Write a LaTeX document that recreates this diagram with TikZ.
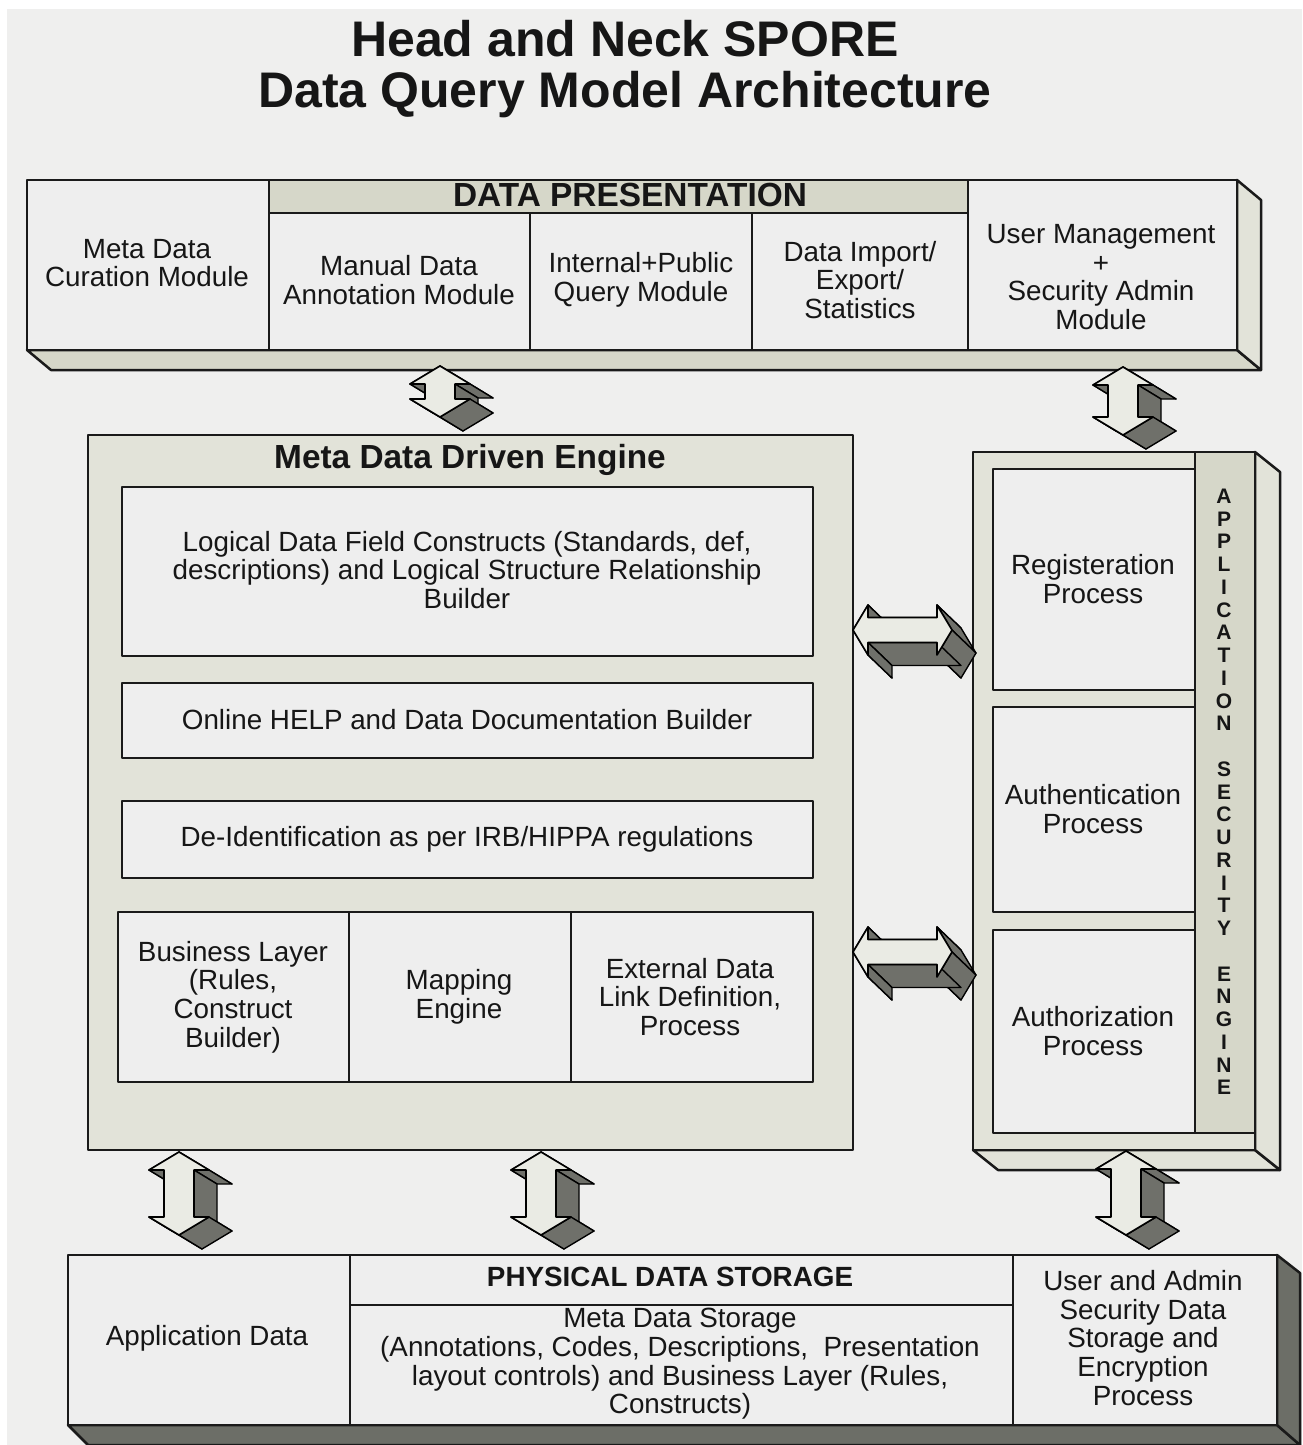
\documentclass[tikz,border=0pt]{standalone}
\usepackage{fontspec}
\setmainfont{Liberation Sans}
\definecolor{bgc}{HTML}{EFEFEE}
\definecolor{cellc}{HTML}{EEEEEE}
\definecolor{khaki}{HTML}{D6D7C9}
\definecolor{khakil}{HTML}{E2E3D9}
\definecolor{darkface}{HTML}{6C6E67}
\definecolor{afront}{HTML}{EAEBE4}
\definecolor{asidec}{HTML}{6F706A}
\definecolor{textc}{HTML}{161616}
\definecolor{linec}{HTML}{1A1A1A}
\tikzset{
  box/.style={draw=linec, line width=1.25pt, fill=cellc, line join=round},
  face/.style={draw=linec, line width=1.25pt, line join=round},
  inner/.style={draw=linec, line width=1.05pt},
  txt/.style={font=\fontsize{13.9}{14.3}\selectfont, text=textc, align=center, inner sep=0pt},
  hdr/.style={font=\bfseries\fontsize{16.7}{18}\selectfont, text=textc, inner sep=0pt},
  hdrs/.style={font=\bfseries\fontsize{13.9}{15}\selectfont, text=textc, inner sep=0pt},
  vtxt/.style={font=\bfseries\fontsize{10.5}{11.375}\selectfont, text=textc, align=center, inner sep=0pt},
  aside/.style={fill=asidec, draw=black, line width=0.7pt, line join=round},
  afr/.style={fill=afront, draw=black, line width=0.8pt, line join=round}
}
\newcommand\AQuad[4]{\filldraw[aside] (#1,#2) -- (#3,#4) -- ({#3+\aex},{#4+\aey}) -- ({#1+\aex},{#2+\aey}) -- cycle;}
% vertical 3D double arrow: cx, cy, half length
\newcommand\VDArrow[3]{%
\begin{scope}[shift={(#1,#2)}]
\pgfmathsetmacro\aL{#3}\pgfmathsetmacro\aM{#3-18}
\def\aex{23}\def\aey{14}
\AQuad{-30}{-\aM}{0}{-\aL}
\AQuad{-15}{\aM}{-15}{-\aM}
\AQuad{15}{\aM}{30}{\aM}
\AQuad{-30}{\aM}{-15}{\aM}
\AQuad{0}{-\aL}{30}{-\aM}
\AQuad{0}{\aL}{-30}{\aM}
\AQuad{30}{-\aM}{15}{-\aM}
\AQuad{15}{-\aM}{15}{\aM}
\AQuad{30}{\aM}{0}{\aL}
\AQuad{-15}{-\aM}{-30}{-\aM}
\filldraw[afr] (0,-\aL) -- (30,-\aM) -- (15,-\aM) -- (15,\aM) -- (30,\aM) -- (0,\aL) -- (-30,\aM) -- (-15,\aM) -- (-15,-\aM) -- (-30,-\aM) -- cycle;
\end{scope}}
% horizontal 3D double arrow
\newcommand\HDArrow[3]{%
\begin{scope}[shift={(#1,#2)}]
\pgfmathsetmacro\aL{#3}\pgfmathsetmacro\aM{#3-15}
\def\aex{24}\def\aey{23}
\AQuad{-\aL}{0}{-\aM}{-25}
\AQuad{-\aM}{-12.5}{\aM}{-12.5}
\AQuad{\aM}{-12.5}{\aM}{-25}
\AQuad{\aM}{25}{\aM}{12.5}
\AQuad{-\aM}{25}{-\aL}{0}
\AQuad{-\aM}{-25}{-\aM}{-12.5}
\AQuad{\aM}{-25}{\aL}{0}
\AQuad{\aL}{0}{\aM}{25}
\AQuad{\aM}{12.5}{-\aM}{12.5}
\AQuad{-\aM}{12.5}{-\aM}{25}
\filldraw[afr] (-\aL,0) -- (-\aM,-25) -- (-\aM,-12.5) -- (\aM,-12.5) -- (\aM,-25) -- (\aL,0) -- (\aM,25) -- (\aM,12.5) -- (-\aM,12.5) -- (-\aM,25) -- cycle;
\end{scope}}
\begin{document}
\begin{tikzpicture}[x=0.5pt,y=-0.5pt]
\useasboundingbox (0,0) rectangle (1302,1445);
\fill[white] (0,0) rectangle (1302,1445);
\fill[bgc] (7,9) rectangle (1302,1445);

% title
\node[font=\bfseries\fontsize{25}{25.5}\selectfont, text=textc, align=center, inner sep=0pt] (title) at (625,69) {Head and Neck SPORE\\Data Query Model Architecture};

% ---------- top band ----------
\filldraw[face, fill=khaki] (27,350) -- (1237,350) -- (1261,370) -- (51,370) -- cycle;
\filldraw[face, fill=khakil] (1237,180) -- (1261,200) -- (1261,370) -- (1237,350) -- cycle;
\filldraw[box] (27,180) rectangle (1237,350);
\filldraw[box, fill=khaki] (269,180) rectangle (968,213);
\draw[inner] (269,180) -- (269,350);
\draw[inner] (530,213) -- (530,350);
\draw[inner] (752,213) -- (752,350);
\draw[inner] (968,180) -- (968,350);
\node[txt] (mdc) at (147,263) {Meta Data\\Curation Module};
\node[hdr] (dp) at (630,195) {DATA PRESENTATION};
\node[txt] (mda) at (399,280) {Manual Data\\Annotation Module};
\node[txt] (iq) at (641,280) {Internal+Public\\Query Module};
\node[txt] (die) at (860,280) {Data Import/\\Export/\\Statistics};
\node[txt] (um) at (1101,277) {User Management\\+\\Security Admin\\Module};

% ---------- meta data driven engine ----------
\filldraw[box, fill=khakil] (88,435) rectangle (853,1150);
\node[hdr] (mde) at (470,460) {Meta Data Driven Engine};
\filldraw[box, line width=1.05pt] (122,487) rectangle (813,656);
\filldraw[box, line width=1.05pt] (122,683) rectangle (813,758);
\filldraw[box, line width=1.05pt] (122,801) rectangle (813,878);
\filldraw[box, line width=1.05pt] (118,912) rectangle (813,1082);
\draw[inner] (349,912) -- (349,1082);
\draw[inner] (571,912) -- (571,1082);
\node[txt] (ldf) at (467,570) {Logical Data Field Constructs (Standards, def,\\descriptions) and Logical Structure Relationship\\Builder};
\node[txt] (help) at (467,720) {Online HELP and Data Documentation Builder};
\node[txt] (deid) at (467,839) {De-Identification as per IRB/HIPPA regulations};
\node[txt] (bl) at (233,997) {Business Layer\\(Rules,\\Construct\\Builder)};
\node[txt] (map) at (459,997) {Mapping\\Engine};
\node[txt] (ext) at (690,997) {External Data\\Link Definition,\\Process};

% ---------- application security engine ----------
\filldraw[face, fill=khakil] (973,1150) -- (1255,1150) -- (1280,1170) -- (998,1170) -- cycle;
\filldraw[face, fill=khakil] (1255,452) -- (1280,472) -- (1280,1170) -- (1255,1150) -- cycle;
\filldraw[box, fill=khakil] (973,452) rectangle (1255,1150);
\filldraw[box, fill=khaki, line width=1.05pt] (1195,452) rectangle (1255,1133);
\filldraw[box, line width=1.05pt] (993,469) rectangle (1195,690);
\filldraw[box, line width=1.05pt] (993,707) rectangle (1195,912);
\filldraw[box, line width=1.05pt] (993,930) rectangle (1195,1133);
\node[txt] (reg) at (1093,579) {Registeration\\Process};
\node[txt] (authn) at (1093,809) {Authentication\\Process};
\node[txt] (authz) at (1093,1031) {Authorization\\Process};
\node[vtxt] (ase) at (1224,792) {A\\P\\P\\L\\I\\C\\A\\T\\I\\O\\N\\\mbox{}\\S\\E\\C\\U\\R\\I\\T\\Y\\\mbox{}\\E\\N\\G\\I\\N\\E};

% ---------- physical data storage ----------
\filldraw[face, fill=darkface] (68,1425) -- (1277,1425) -- (1300,1445) -- (88,1445) -- cycle;
\filldraw[face, fill=darkface] (1277,1255) -- (1300,1273) -- (1300,1445) -- (1277,1425) -- cycle;
\filldraw[box] (68,1255) rectangle (1277,1425);
\draw[inner] (350,1255) -- (350,1425);
\draw[inner] (1013,1255) -- (1013,1425);
\draw[inner] (350,1305) -- (1013,1305);
\node[txt] (appd) at (207,1338) {Application Data};
\node[hdrs] (pds) at (670,1277) {PHYSICAL DATA STORAGE};
\node[txt] (mds) at (680,1364) {Meta Data Storage\\(Annotations, Codes, Descriptions,\ \ Presentation\\layout controls) and Business Layer (Rules,\\Constructs)};
\node[txt] (uas) at (1143,1338) {User and Admin\\Security Data\\Storage and\\Encryption\\Process};

% ---------- 3D double arrows ----------
\VDArrow{440}{391.5}{25.5}
\VDArrow{1123}{401}{34}
\HDArrow{902.5}{630}{49.5}
\HDArrow{902.5}{952}{49.5}
\VDArrow{179}{1193.5}{41.5}
\VDArrow{541}{1193.5}{41.5}
\VDArrow{1126}{1193}{42}
\end{tikzpicture}
\end{document}
